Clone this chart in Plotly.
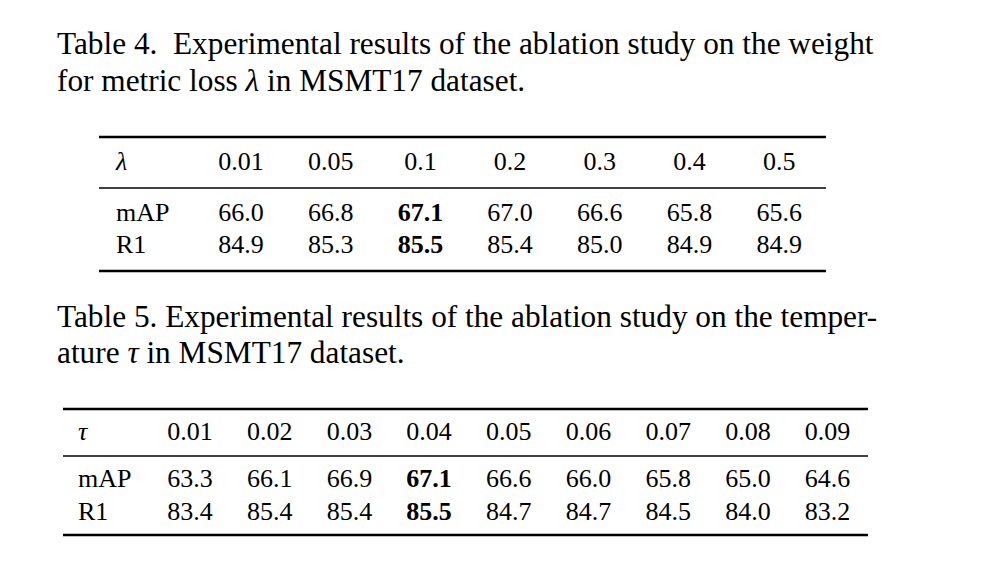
import plotly.graph_objects as go

# ---- data ----
caption4 = ["Table 4.  Experimental results of the ablation study on the weight",
            "for metric loss <i>λ</i> in MSMT17 dataset."]
lambda_vals = ["0.01", "0.05", "0.1", "0.2", "0.3", "0.4", "0.5"]
map4 = [66.0, 66.8, 67.1, 67.0, 66.6, 65.8, 65.6]
r1_4 = [84.9, 85.3, 85.5, 85.4, 85.0, 84.9, 84.9]

caption5 = ["Table 5. Experimental results of the ablation study on the temper-",
            "ature <i>τ</i> in MSMT17 dataset."]
tau_vals = ["0.01", "0.02", "0.03", "0.04", "0.05", "0.06", "0.07", "0.08", "0.09"]
map5 = [63.3, 66.1, 66.9, 67.1, 66.6, 66.0, 65.8, 65.0, 64.6]
r1_5 = [83.4, 85.4, 85.4, 85.5, 84.7, 84.7, 84.5, 84.0, 83.2]

FONT = "Liberation Serif"
FS = 26
CAP_FS = 31.3

fig = go.Figure()
shapes = []
annotations = []


def fmt(vals):
    best = max(vals)
    return [f"<b>{v:.1f}</b>" if v == best else f"{v:.1f}" for v in vals]


def add_table(param_sym, params, maps, r1s, x_label, x_first, dx,
              y_head, y_map, y_r1, x0, x1, y_top, y_mid, y_bot):
    xs = [x_first + i * dx for i in range(len(params))]
    # label column
    fig.add_trace(go.Scatter(
        x=[x_label] * 3, y=[y_head, y_map, y_r1], mode="text",
        text=[param_sym, "mAP", "R1"], textposition="middle right",
        textfont=dict(family=FONT, size=FS, color="black"),
        hoverinfo="skip", showlegend=False))
    for yy, row in [(y_head, params), (y_map, fmt(maps)), (y_r1, fmt(r1s))]:
        fig.add_trace(go.Scatter(
            x=xs, y=[yy] * len(row), mode="text", text=row,
            textposition="middle center",
            textfont=dict(family=FONT, size=FS, color="black"),
            hoverinfo="skip", showlegend=False))
    for yy, w in [(y_top, 2.5), (y_mid, 1.5), (y_bot, 2.5)]:
        shapes.append(dict(type="line", xref="x", yref="y", x0=x0, x1=x1,
                           y0=yy, y1=yy, line=dict(color="black", width=w)))


def add_caption(lines, x, ys):
    for t, yy in zip(lines, ys):
        annotations.append(dict(text=t, x=x, y=yy, xref="x", yref="y",
                                xanchor="left", yanchor="middle", showarrow=False,
                                font=dict(family=FONT, size=CAP_FS, color="black")))


add_caption(caption4, 55, [43, 80])
add_table("<i>λ</i>", lambda_vals, map4, r1_4, x_label=116, x_first=241, dx=89.7,
          y_head=163, y_map=214, y_r1=246, x0=99, x1=826,
          y_top=137, y_mid=188, y_bot=271)

add_caption(caption5, 55, [316, 352])
add_table("<i>τ</i>", tau_vals, map5, r1_5, x_label=78, x_first=190, dx=79.7,
          y_head=433, y_map=480, y_r1=513, x0=63, x1=868,
          y_top=409, y_mid=456, y_bot=535)

# the page body has an 8px margin, so shift the coordinate frame accordingly
fig.update_layout(
    width=1000, height=564,
    margin=dict(l=0, r=0, t=0, b=0),
    paper_bgcolor="white", plot_bgcolor="white",
    xaxis=dict(range=[8, 1008], visible=False, fixedrange=True),
    yaxis=dict(range=[572, 8], visible=False, fixedrange=True),
    shapes=shapes, annotations=annotations,
)

fig.write_html("out.html")
